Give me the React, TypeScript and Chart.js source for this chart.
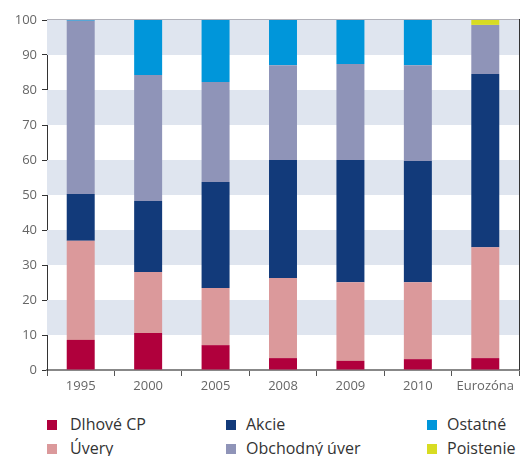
import React, { useEffect, useRef } from "react";
import { Chart, registerables } from "chart.js";

Chart.register(...registerables);

const categories = ["1995", "2000", "2005", "2008", "2009", "2010", "Eurozóna"];
const dlhoveCP = [8.6, 10.6, 7.1, 3.4, 2.6, 3.1, 3.4];
const uvery = [28.3, 17.4, 16.3, 22.9, 22.5, 22.0, 31.7];
const akcie = [13.4, 20.3, 30.3, 33.7, 34.9, 34.6, 49.5];
const obchodnyUver = [49.5, 36.0, 28.6, 27.1, 27.4, 27.4, 14.0];
const ostatne = [0.2, 15.7, 17.7, 12.9, 12.6, 12.9, 0];
const poistenie = [0, 0, 0, 0, 0, 0, 1.4];
const yTicks = [0, 10, 20, 30, 40, 50, 60, 70, 80, 90, 100];

const seriesNames = ["Dlhové CP", "Úvery", "Akcie", "Obchodný úver", "Ostatné", "Poistenie"];
const seriesColors = ["#b0003c", "#db999b", "#123a7a", "#8f94b8", "#0096da", "#d8dc22"];
const seriesData = [dlhoveCP, uvery, akcie, obchodnyUver, ostatne, poistenie];

// legend layout: rows of columns
const legendOrder = [
  [0, 2, 4],
  [1, 3, 5],
];
const legendColX = [47, 226, 427];
const legendTextX = [70, 246, 447];
const legendRowY = [420, 444];

const bandsPlugin = {
  id: "bands",
  beforeDatasetsDraw(chart: any) {
    const { ctx, chartArea, scales } = chart;
    const y = scales.y;
    ctx.save();
    ctx.fillStyle = "#dfe5ef";
    for (let i = 0; i < yTicks.length - 1; i++) {
      if (i % 2 === 1) {
        const top = y.getPixelForValue(yTicks[i + 1]);
        const bot = y.getPixelForValue(yTicks[i]);
        ctx.fillRect(chartArea.left, top, chartArea.right - chartArea.left, bot - top);
      }
    }
    ctx.restore();
  },
  afterDraw(chart: any) {
    const { ctx, chartArea } = chart;
    ctx.save();
    ctx.strokeStyle = "#b0b0b8";
    ctx.lineWidth = 1;
    ctx.beginPath();
    ctx.moveTo(chartArea.left, chartArea.top - 0.5);
    ctx.lineTo(chartArea.right, chartArea.top - 0.5);
    ctx.stroke();
    ctx.strokeStyle = "#333333";
    ctx.beginPath();
    ctx.moveTo(chartArea.right + 0.5, chartArea.top - 1);
    ctx.lineTo(chartArea.right + 0.5, chartArea.bottom);
    ctx.stroke();
    ctx.restore();
  },
};

export default function App() {
  const canvasRef = useRef<HTMLCanvasElement | null>(null);

  useEffect(() => {
    document.body.style.margin = "0";
    const canvas = canvasRef.current;
    if (!canvas) return;
    const chart = new Chart(canvas, {
      type: "bar",
      data: {
        labels: categories,
        datasets: seriesNames.map((name, i) => ({
          label: name,
          data: seriesData[i],
          backgroundColor: seriesColors[i],
          borderWidth: 0,
          barPercentage: 0.415,
          categoryPercentage: 1,
        })),
      },
      options: {
        animation: false,
        responsive: false,
        maintainAspectRatio: false,
        layout: { padding: { top: 20, right: 6, left: 0, bottom: 0 } },
        plugins: {
          legend: { display: false },
          tooltip: { enabled: false },
        },
        scales: {
          x: {
            stacked: true,
            grid: {
              offset: true,
              drawOnChartArea: false,
              drawTicks: true,
              tickLength: 6,
              color: "#555555",
            },
            border: { display: true, color: "#888888", width: 2 },
            ticks: {
              color: "#666666",
              font: { family: "Open Sans", size: 13 },
              padding: 2,
              maxRotation: 0,
              autoSkip: false,
            },
            afterFit: (scale: any) => {
              scale.height = 30;
            },
          },
          y: {
            stacked: true,
            min: 0,
            max: 100,
            ticks: {
              stepSize: 10,
              color: "#666666",
              font: { family: "Open Sans", size: 13 },
              padding: 5,
            },
            grid: {
              drawOnChartArea: false,
              drawTicks: true,
              tickLength: 5,
              color: "#333333",
            },
            border: { display: true, color: "#333333", width: 1 },
            afterFit: (scale: any) => {
              scale.width = 47;
            },
          },
        },
      },
      plugins: [bandsPlugin],
    });
    return () => chart.destroy();
  }, []);

  return (
    <div style={{ position: "absolute", left: 0, top: 0, width: 525, height: 456, background: "#fff", overflow: "hidden" }}>
      <canvas ref={canvasRef} width={525} height={400} style={{ position: "absolute", left: 0, top: 0, width: 525, height: 400 }} />
      {legendOrder.map((row, r) =>
        row.map((si, c) => (
          <React.Fragment key={`${r}-${c}`}>
            <div
              style={{
                position: "absolute",
                left: legendColX[c],
                top: legendRowY[r],
                width: 10,
                height: 10,
                background: seriesColors[si],
              }}
            />
            <div
              style={{
                position: "absolute",
                left: legendTextX[c],
                top: legendRowY[r] - 4,
                fontFamily: "Open Sans",
                fontSize: 16,
                lineHeight: "16px",
                color: "#333333",
                whiteSpace: "nowrap",
              }}
            >
              {seriesNames[si]}
            </div>
          </React.Fragment>
        ))
      )}
    </div>
  );
}
